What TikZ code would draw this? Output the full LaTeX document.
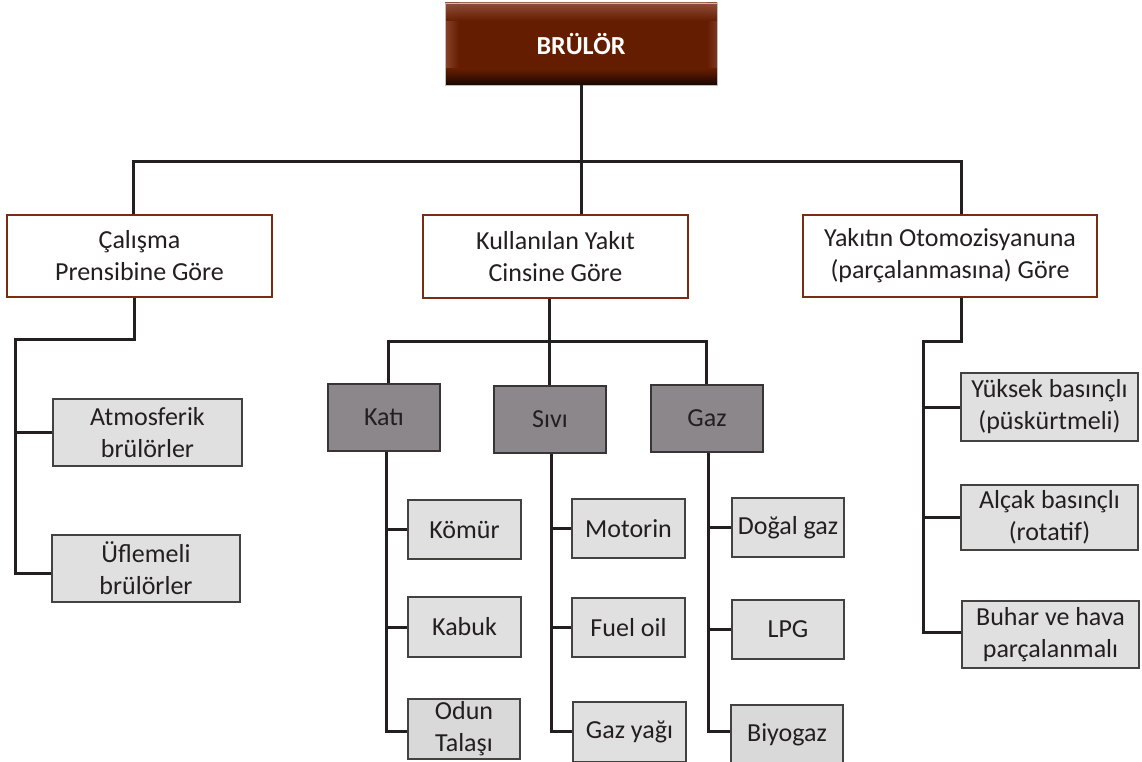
\documentclass[tikz,border=0pt]{standalone}
\usepackage{fontspec}
\setmainfont{Carlito}
\definecolor{brn}{HTML}{651D00}
\definecolor{brnlight}{HTML}{93533F}
\definecolor{brndark}{HTML}{1A0600}
\definecolor{lvlborder}{HTML}{7A2C12}
\definecolor{ink}{HTML}{231F20}
\definecolor{midfill}{HTML}{8C878A}
\definecolor{leaffill}{HTML}{E0E0E0}
\definecolor{leafdark}{HTML}{D9D9D9}
\tikzset{
  txt/.style={font=\fontsize{26}{32}\selectfont, text=ink, align=center, inner sep=0pt},
  topbox/.style={txt, draw=gray!50, line width=0.8pt, font=\fontsize{26}{32}\selectfont\bfseries, text=white,
    path picture={
      \fill[brn] (path picture bounding box.south west) rectangle (path picture bounding box.north east);
      \shade[left color=brnlight!70!brn, right color=brn] (path picture bounding box.south west) rectangle ([xshift=14pt]path picture bounding box.north west);
      \shade[right color=brnlight!50!brn, left color=brn] ([xshift=-10pt]path picture bounding box.south east) rectangle (path picture bounding box.north east);
      \shade[top color=brnlight, bottom color=brn, opacity=0.9] ([yshift=-18pt]path picture bounding box.north west) rectangle (path picture bounding box.north east);
      \shade[top color=brn, bottom color=brndark] ([yshift=16pt]path picture bounding box.south west) rectangle (path picture bounding box.south east);
    }},
  lvlbox/.style={txt, draw=lvlborder, fill=white, line width=2.6pt},
  midbox/.style={txt, draw=ink!90, fill=midfill, line width=2pt},
  leafbox/.style={txt, draw=ink!85, fill=leaffill, line width=1.7pt},
  conn/.style={draw=ink, line width=3pt, line join=miter},
}
\begin{document}
\begin{tikzpicture}[x=1pt, y=-1pt]
\useasboundingbox (0,0) rectangle (1142,762);
\fill[white] (0,0) rectangle (1142,762);

% top
\node[topbox, minimum width=272pt, minimum height=82pt] (brulor) at (581,44) {BRÜLÖR};

% level 1
\node[lvlbox, minimum width=265pt, minimum height=82pt] (cal) at (139.5,256) {Çalışma\\Prensibine Göre};
\node[lvlbox, minimum width=265pt, minimum height=83pt] (kul) at (555.5,256.5) {Kullanılan Yakıt\\Cinsine Göre};
\node[lvlbox, minimum width=294pt, minimum height=82pt] (yak) at (950,256) {Yakıtın Otomozisyanuna\\(parçalanmasına) Göre};

% left leaves
\node[leafbox, minimum width=189pt, minimum height=67pt] (atm) at (147.5,432.5) {Atmosferik\\brülörler};
\node[leafbox, minimum width=188pt, minimum height=67pt] (ufl) at (146,568.5) {Üflemeli\\brülörler};

% fuel types
\node[midbox, minimum width=112pt, minimum height=67pt] (kati) at (384,417.5) {Katı};
\node[midbox, minimum width=112pt, minimum height=67pt] (sivi) at (550,419.5) {Sıvı};
\node[midbox, minimum width=112pt, minimum height=67pt] (gaz) at (707,418.5) {Gaz};

% fuel leaves
\node[leafbox, minimum width=113pt, minimum height=59pt] (komur) at (464.5,529.5) {Kömür};
\node[leafbox, minimum width=113pt, minimum height=60pt] (kabuk) at (464.5,627) {Kabuk};
\node[leafbox, fill=leafdark, minimum width=112pt, minimum height=60pt] (odun) at (464,729) {Odun\\Talaşı};
\node[leafbox, minimum width=113pt, minimum height=59pt] (motorin) at (628.5,528.5) {Motorin};
\node[leafbox, minimum width=113pt, minimum height=59pt] (fuel) at (628.5,627.5) {Fuel oil};
\node[leafbox, minimum width=113pt, minimum height=60pt] (gazyagi) at (629.5,732) {Gaz yağı};
\node[leafbox, minimum width=112pt, minimum height=59pt] (dogal) at (788,527.5) {Doğal gaz};
\node[leafbox, minimum width=112pt, minimum height=59pt] (lpg) at (788,629.5) {LPG};
\node[leafbox, fill=leafdark, minimum width=112pt, minimum height=60pt] (biyo) at (787,735) {Biyogaz};

% right leaves
\node[leafbox, minimum width=177pt, minimum height=68pt] (yuksek) at (1049.5,407) {Yüksek basınçlı\\(püskürtmeli)};
\node[leafbox, minimum width=177pt, minimum height=65pt] (alcak) at (1049.5,517.5) {Alçak basınçlı\\(rotatif)};
\node[leafbox, minimum width=177pt, minimum height=67pt] (buhar) at (1050.5,634.5) {Buhar ve hava\\parçalanmalı};

% junction coordinates
\coordinate (jL) at (133,162);
\coordinate (jR) at (961,162);
\coordinate (c1) at (134,339);
\coordinate (c2) at (15,339);
\coordinate (c3) at (15,573);
\coordinate (m1) at (549,341);
\coordinate (mL) at (388,341);
\coordinate (mR) at (706,341);
\coordinate (kx) at (386,731);
\coordinate (sx) at (551,731);
\coordinate (gx) at (708,731);
\coordinate (r1) at (961,341);
\coordinate (r2) at (923,341);
\coordinate (r3) at (923,632);

% connectors: top
\draw[conn] (brulor.south) -- (kul.north -| brulor.south);
\draw[conn] (cal.north -| jL) -- (jL) -- (jR) -- (yak.north -| jR);

% left branch
\draw[conn] (cal.south -| c1) -- (c1) -- (c2) -- (c3) -- (c3 -| ufl.west);
\draw[conn] (c2 |- atm.west) -- (atm.west);

% middle branch
\draw[conn] (kul.south -| m1) -- (m1);
\draw[conn] (kati.north -| mL) -- (mL) -- (mR) -- (gaz.north -| mR);
\draw[conn] (m1) -- (sivi.north -| m1);

\draw[conn] (kati.south -| kx) -- (kx) -- (kx -| odun.west);
\draw[conn] (kx |- komur.west) -- (komur.west);
\draw[conn] (kx |- kabuk.west) -- (kabuk.west);

\draw[conn] (sivi.south -| sx) -- (sx) -- (sx -| gazyagi.west);
\draw[conn] (sx |- motorin.west) -- (motorin.west);
\draw[conn] (sx |- fuel.west) -- (fuel.west);

\draw[conn] (gaz.south -| gx) -- (gx) -- (gx -| biyo.west);
\draw[conn] (gx |- dogal.west) -- (dogal.west);
\draw[conn] (gx |- lpg.west) -- (lpg.west);

% right branch
\draw[conn] (yak.south -| r1) -- (r1) -- (r2) -- (r3) -- (r3 -| buhar.west);
\draw[conn] (r2 |- yuksek.west) -- (yuksek.west);
\draw[conn] (r2 |- alcak.west) -- (alcak.west);
\end{tikzpicture}
\end{document}
